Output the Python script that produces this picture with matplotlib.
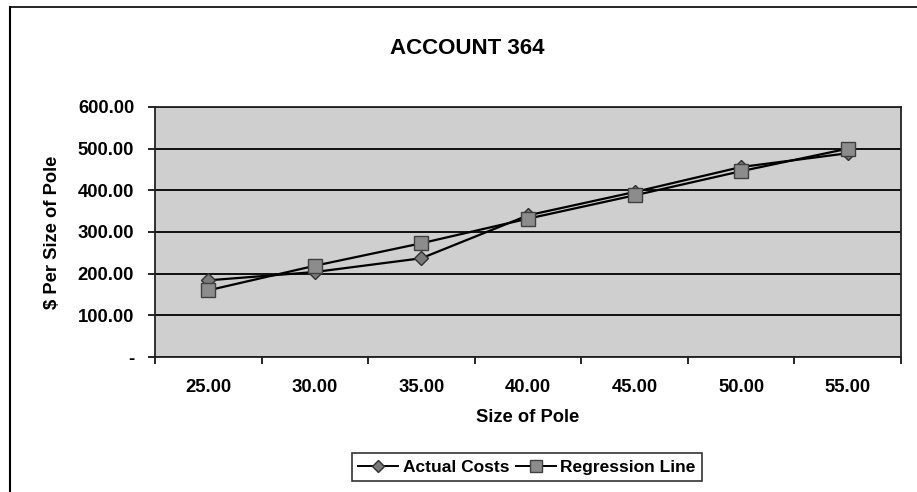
import matplotlib
matplotlib.use("Agg")
import matplotlib.pyplot as plt
from matplotlib.lines import Line2D

# data
sizes = ["25.00", "30.00", "35.00", "40.00", "45.00", "50.00", "55.00"]
actual_costs = [184, 204, 237, 340, 396, 456, 489]
regression = [160, 219, 273, 332, 388, 446, 500]
y_ticks = [0, 100, 200, 300, 400, 500, 600]
y_labels = ["-", "100.00", "200.00", "300.00", "400.00", "500.00", "600.00"]

plt.rcParams['font.family'] = ['Liberation Sans', 'DejaVu Sans']
plt.rcParams['font.weight'] = 'bold'

W, H = 917, 492
fig = plt.figure(figsize=(W / 100, H / 100), dpi=100)
# axes box in pixels: left 155, right 901, top 107, bottom 357
ax = fig.add_axes([155 / W, 1 - 357 / H, (901 - 155) / W, (357 - 107) / H])
ax.set_facecolor('#cfcfcf')

x = list(range(len(sizes)))
ax.plot(x, actual_costs, color='black', lw=1.6, marker='D', ms=7,
        mfc='#7a7a7a', mec='#303030', mew=1, zorder=3)
ax.plot(x, regression, color='black', lw=1.6, marker='s', ms=10,
        mfc='#8c8c8c', mec='#404040', mew=1, zorder=4)

ax.set_xlim(-0.5, len(sizes) - 0.5)
ax.set_ylim(0, 600)
ax.set_yticks(y_ticks)
ax.set_yticklabels(y_labels)
ax.set_xticks(x)
ax.set_xticklabels(sizes)
ax.set_xticks([i - 0.5 for i in range(len(sizes) + 1)], minor=True)
ax.tick_params(axis='x', which='major', length=0, pad=16, labelsize=13.3)
ax.tick_params(axis='x', which='minor', length=5, width=1.2, direction='out')
ax.tick_params(axis='y', length=5, width=1.2, direction='out', pad=10, labelsize=13.3)

ax.yaxis.grid(True, color='black', lw=1.3)
ax.set_axisbelow(True)
for s in ax.spines.values():
    s.set_linewidth(1.3)
    s.set_color('#222222')

ax.set_xlabel("Size of Pole", fontsize=13.2, fontweight='bold', labelpad=9)
ax.set_ylabel("$ Per Size of Pole", fontsize=13.2, fontweight='bold', labelpad=12)

fig.text(467 / W, 1 - 48 / H, "ACCOUNT 364", ha='center', va='center',
         fontsize=16, fontweight='bold')

handles = [
    Line2D([], [], color='black', lw=1.4, marker='D', ms=6, mfc='#7a7a7a', mec='#303030'),
    Line2D([], [], color='black', lw=1.4, marker='s', ms=8, mfc='#8c8c8c', mec='#404040'),
]
leg = fig.legend(handles, ["Actual Costs", "Regression Line"], loc='center',
                 bbox_to_anchor=(527 / W, 1 - 467 / H), ncol=2, frameon=True,
                 fancybox=False, edgecolor='black', fontsize=12.5,
                 handlelength=2.3, columnspacing=0.4, handletextpad=0.25,
                 borderpad=0.35, borderaxespad=0)
leg.get_frame().set_linewidth(1.2)

# scanned page border on left and top
fig.add_artist(Line2D([10 / W, 10 / W], [0, 1 - 7 / H], color='black', lw=1.5))
fig.add_artist(Line2D([10 / W, 1], [1 - 7 / H, 1 - 7 / H], color='black', lw=1.2))

fig.savefig("out.png", dpi=100)
